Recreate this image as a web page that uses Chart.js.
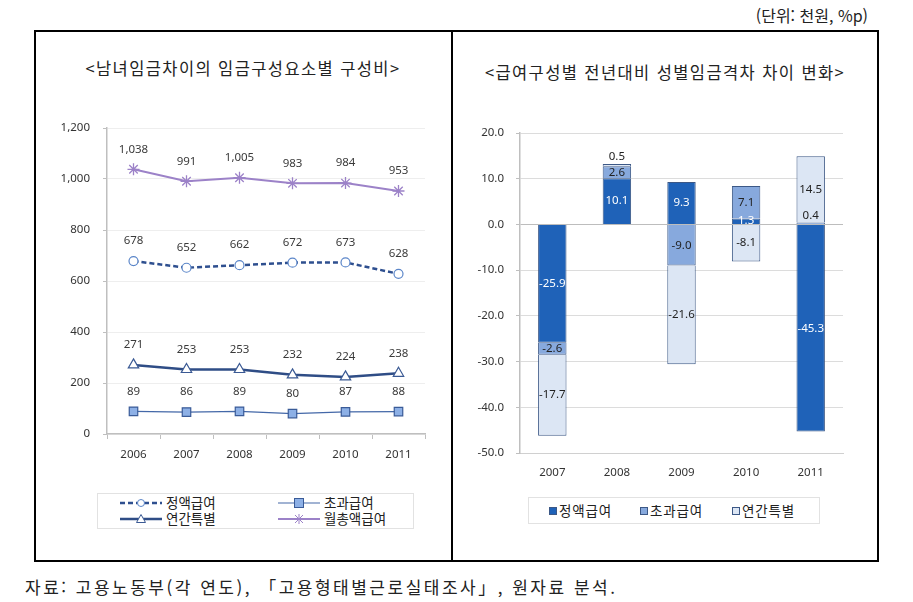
<!DOCTYPE html>
<html lang="ko">
<head>
<meta charset="UTF-8">
<script src="https://cdn.jsdelivr.net/npm/chart.js"></script>
<title>남녀임금차이</title>
<style>
    body { margin: 0; background: #fff; font-family: "Noto Sans CJK KR", sans-serif; color: #222; }
    #page { position: relative; width: 913px; height: 602px; }
    .abs { position: absolute; }
    #unit { right: 45px; top: 3px; font-size: 16px; }
    #frame { left: 34px; top: 30px; width: 841px; height: 528px; border: 2px solid #000; }
    #divider { left: 451px; top: 30px; width: 2px; height: 530px; background: #000; }
    .title { font-size: 16.5px; letter-spacing: 1.4px; text-align: center; white-space: nowrap; }
    #title1 { left: 36px; width: 414px; top: 56px; }
    #title2 { left: 453px; width: 424px; top: 60px; }
    #footer { left: 25px; top: 574px; font-size: 17px; letter-spacing: 2.5px; white-space: nowrap; }
    .legend { border: 1px solid #e2e2e2; font-size: 13.5px; }
    .legend .item { position: absolute; white-space: nowrap; display: flex; align-items: center; height: 15px; }
    .legend svg { display: block; }
</style>
</head>
<body>
<div id="page">
    <div id="unit" class="abs">(단위: 천원, %p)</div>
    <div id="frame" class="abs"></div>
    <div id="divider" class="abs"></div>
    <div id="title1" class="abs title">&lt;남녀임금차이의 임금구성요소별 구성비&gt;</div>
    <div id="title2" class="abs title">&lt;급여구성별 전년대비 성별임금격차 차이 변화&gt;</div>

    <div class="abs" style="left:34px; top:101px; width:418px; height:372px;">
        <canvas id="lineChart"></canvas>
    </div>
    <div class="abs" style="left:452px; top:110px; width:425px; height:376px;">
        <canvas id="barChart"></canvas>
    </div>

    <div id="legend1" class="abs legend" style="left:97px; top:493px; width:315px; height:34px;"></div>
    <div id="legend2" class="abs legend" style="left:528px; top:497px; width:290px; height:25px;"></div>

    <div id="footer" class="abs">자료: 고용노동부(각 연도), 「고용형태별근로실태조사」, 원자료 분석.</div>
</div>

<script>
    // 왼쪽: 임금구성요소별 (천원)
    const years = ['2006', '2007', '2008', '2009', '2010', '2011'];
    const basePay = [678, 652, 662, 672, 673, 628];      // 정액급여
    const overtimePay = [89, 86, 89, 80, 87, 88];        // 초과급여
    const bonusPay = [271, 253, 253, 232, 224, 238];     // 연간특별
    const totalPay = [1038, 991, 1005, 983, 984, 953];   // 월총액급여
    const lineTicks = [0, 200, 400, 600, 800, 1000, 1200];

    // 오른쪽: 전년대비 차이 변화 (%p)
    const barYears = ['2007', '2008', '2009', '2010', '2011'];
    const baseDiff = [-25.9, 10.1, 9.3, 1.3, -45.3];     // 정액급여
    const overtimeDiff = [-2.6, 2.6, -9.0, 7.1, 0.4];    // 초과급여
    const bonusDiff = [-17.7, 0.5, -21.6, -8.1, 14.5];   // 연간특별
    const barTicks = [20, 10, 0, -10, -20, -30, -40, -50];

    const numFont = { family: '"Noto Sans", sans-serif', size: 11.5 };

    // 점/막대 위 값 표시
    const valueLabels = {
        id: 'valueLabels',
        afterDatasetsDraw(chart, args, opts) {
            const ctx = chart.ctx;
            ctx.save();
            ctx.font = '11.5px "Noto Sans", sans-serif';
            ctx.textAlign = 'center';
            ctx.textBaseline = 'middle';
            chart.data.datasets.forEach((ds, i) => {
                const meta = chart.getDatasetMeta(i);
                meta.data.forEach((el, j) => {
                    const v = ds.data[j];
                    let x = el.x, y;
                    if (opts.type === 'bar') {
                        const h = Math.abs(el.base - el.y);
                        y = (el.y + el.base) / 2;
                        if (h < 4) y = Math.min(el.y, el.base) - 7;
                        ctx.fillStyle = ds.labelColor;
                        ctx.fillText(v.toFixed(1), x, y);
                    } else {
                        y = el.y - 20;
                        ctx.fillStyle = '#3a3a3a';
                        ctx.fillText(v.toLocaleString('en-US'), x, y);
                    }
                });
            });
            ctx.restore();
        }
    };

    const lineSets = [
        { label: '정액급여', data: basePay, borderColor: '#2e4f8f', borderWidth: 2.5, borderDash: [5, 3],
          pointStyle: 'circle', pointRadius: 4.5, pointBackgroundColor: '#ffffff', pointBorderColor: '#5b86c9', pointBorderWidth: 1.2 },
        { label: '초과급여', data: overtimePay, borderColor: '#4468a8', borderWidth: 1.2,
          pointStyle: 'rect', pointRadius: 6, pointBackgroundColor: '#8db0e6', pointBorderColor: '#3a5b98', pointBorderWidth: 1.2 },
        { label: '연간특별', data: bonusPay, borderColor: '#2f4d86', borderWidth: 2.5,
          pointStyle: 'triangle', pointRadius: 6, pointBackgroundColor: '#ffffff', pointBorderColor: '#3b5a94', pointBorderWidth: 1.2 },
        { label: '월총액급여', data: totalPay, borderColor: '#9c82c8', borderWidth: 2,
          pointStyle: 'star', pointRadius: 6, pointBackgroundColor: '#9c82c8', pointBorderColor: '#9c82c8', pointBorderWidth: 1.3 }
    ];

    new Chart(document.getElementById('lineChart'), {
        type: 'line',
        data: { labels: years, datasets: lineSets },
        options: {
            responsive: true, maintainAspectRatio: false, animation: false,
            layout: { padding: { top: 27, right: 27, left: 0, bottom: 0 } },
            plugins: { legend: { display: false }, tooltip: { enabled: false }, valueLabels: { type: 'line' } },
            scales: {
                x: {
                    offset: true,
                    grid: { offset: true, drawOnChartArea: false, drawTicks: true, tickLength: 5, color: '#bfbfbf' },
                    border: { color: '#bfbfbf', width: 1.5 },
                    ticks: { font: numFont, color: '#333', padding: 9 },
                    afterFit: s => { s.height = 39; }
                },
                y: {
                    min: 0, max: 1200,
                    afterBuildTicks: s => { s.ticks = lineTicks.map(v => ({ value: v })); },
                    grid: { color: '#eeeeee', tickLength: 4, tickColor: '#bfbfbf' },
                    border: { color: '#bfbfbf', width: 1.5 },
                    ticks: { font: numFont, color: '#333', padding: 13, callback: v => v.toLocaleString('en-US') },
                    afterFit: s => { s.width = 73; }
                }
            }
        },
        plugins: [valueLabels]
    });

    const barSets = [
        { label: '정액급여', data: baseDiff, backgroundColor: '#1f62b8', labelColor: '#ffffff' },
        { label: '초과급여', data: overtimeDiff, backgroundColor: '#87a9dd', labelColor: '#222222' },
        { label: '연간특별', data: bonusDiff, backgroundColor: '#dce6f4', labelColor: '#222222' }
    ].map(d => Object.assign(d, { borderColor: '#3c5886', borderWidth: 1, barPercentage: 0.44, categoryPercentage: 1 }));

    new Chart(document.getElementById('barChart'), {
        type: 'bar',
        data: { labels: barYears, datasets: barSets },
        options: {
            responsive: true, maintainAspectRatio: false, animation: false,
            layout: { padding: { top: 23, right: 34, left: 0, bottom: 0 } },
            plugins: { legend: { display: false }, tooltip: { enabled: false }, valueLabels: { type: 'bar' } },
            scales: {
                x: {
                    stacked: true,
                    grid: { drawOnChartArea: false, drawTicks: false },
                    border: { color: '#d0d0d0' },
                    ticks: { font: numFont, color: '#333', padding: 13 },
                    afterFit: s => { s.height = 33; }
                },
                y: {
                    stacked: true, min: -50, max: 20,
                    afterBuildTicks: s => { s.ticks = barTicks.map(v => ({ value: v })); },
                    grid: { color: c => c.tick && c.tick.value === 0 ? '#bdbdbd' : '#dcdcdc', tickLength: 4, tickColor: '#bfbfbf' },
                    border: { color: '#bfbfbf', width: 1.5 },
                    ticks: { font: numFont, color: '#333', padding: 12, callback: v => Number(v).toFixed(1) },
                    afterFit: s => { s.width = 68; }
                }
            }
        },
        plugins: [valueLabels]
    });

    // 범례 (데이터셋 스타일에서 생성)
    function lineIcon(ds) {
        const dash = ds.borderDash ? `stroke-dasharray="${ds.borderDash.join(',')}"` : '';
        let mark = '';
        const c = ds.pointBorderColor, f = ds.pointBackgroundColor;
        if (ds.pointStyle === 'circle') mark = `<circle cx="21" cy="6" r="3.5" fill="${f}" stroke="${c}"/>`;
        if (ds.pointStyle === 'rect') mark = `<rect x="16.5" y="1.5" width="9" height="9" fill="${f}" stroke="${c}"/>`;
        if (ds.pointStyle === 'triangle') mark = `<polygon points="21,1.5 25.5,9.5 16.5,9.5" fill="${f}" stroke="${c}"/>`;
        if (ds.pointStyle === 'star') mark = `<path d="M17,2 L25,10 M25,2 L17,10 M21,1 L21,11" stroke="${c}"/>`;
        return `<svg width="42" height="12"><line x1="0" y1="6" x2="42" y2="6" stroke="${ds.borderColor}" stroke-width="${ds.borderWidth}" ${dash}/>${mark}</svg>`;
    }
    const leg1 = document.getElementById('legend1');
    const pos1 = [[22, 1], [180, 1], [22, 17], [180, 17]];
    lineSets.forEach((ds, i) => {
        const d = document.createElement('div');
        d.className = 'item';
        d.style.left = pos1[i][0] + 'px';
        d.style.top = pos1[i][1] + 'px';
        d.innerHTML = lineIcon(ds) + `<span style="margin-left:4px; line-height:15px;">${ds.label}</span>`;
        leg1.appendChild(d);
    });

    const leg2 = document.getElementById('legend2');
    const pos2 = [20, 111, 203];
    barSets.forEach((ds, i) => {
        const d = document.createElement('div');
        d.className = 'item';
        d.style.left = pos2[i] + 'px';
        d.style.top = '5px';
        d.innerHTML = `<svg width="8" height="8"><rect x="0.5" y="0.5" width="7" height="7" fill="${ds.backgroundColor}" stroke="${ds.borderColor}"/></svg>`
            + `<span style="margin-left:2px; line-height:15px; letter-spacing:0.8px;">${ds.label}</span>`;
        leg2.appendChild(d);
    });
</script>
</body>
</html>
